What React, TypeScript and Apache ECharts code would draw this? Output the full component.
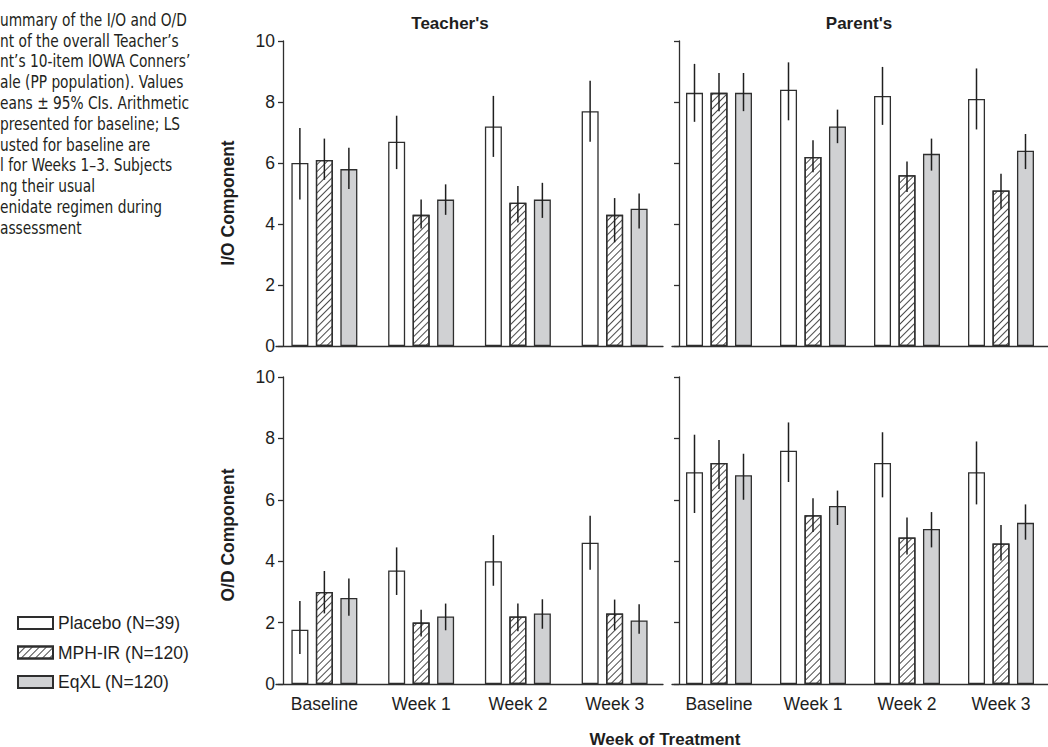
import React, { useEffect, useRef } from "react";
import * as echarts from "echarts";

// ---------- data ----------
const weeks = ["Baseline", "Week 1", "Week 2", "Week 3"];
const groupNames = ["Placebo (N=39)", "MPH-IR (N=120)", "EqXL (N=120)"];

// Teacher's I/O component: [placebo, MPH-IR, EqXL]
const teacherIOMean = [
  [6.0, 6.7, 7.2, 7.7],
  [6.1, 4.3, 4.7, 4.3],
  [5.8, 4.8, 4.8, 4.5],
];
const teacherIOLow = [
  [4.8, 5.8, 6.2, 6.7],
  [5.45, 3.85, 4.05, 3.4],
  [5.15, 4.3, 4.2, 3.85],
];
const teacherIOHigh = [
  [7.15, 7.55, 8.2, 8.7],
  [6.8, 4.8, 5.25, 4.85],
  [6.5, 5.3, 5.35, 5.0],
];

// Parent's I/O component
const parentIOMean = [
  [8.3, 8.4, 8.2, 8.1],
  [8.3, 6.2, 5.6, 5.1],
  [8.3, 7.2, 6.3, 6.4],
];
const parentIOLow = [
  [7.35, 7.4, 7.25, 7.1],
  [7.7, 5.7, 5.05, 4.5],
  [7.7, 6.65, 5.75, 5.8],
];
const parentIOHigh = [
  [9.25, 9.3, 9.15, 9.1],
  [8.95, 6.75, 6.05, 5.65],
  [8.95, 7.75, 6.8, 6.95],
];

// Teacher's O/D component
const teacherODMean = [
  [1.77, 3.7, 4.0, 4.6],
  [3.0, 2.0, 2.2, 2.3],
  [2.8, 2.2, 2.3, 2.07],
];
const teacherODLow = [
  [0.98, 2.9, 3.2, 3.72],
  [2.3, 1.55, 1.72, 1.75],
  [2.22, 1.75, 1.8, 1.64],
];
const teacherODHigh = [
  [2.7, 4.45, 4.85, 5.48],
  [3.68, 2.42, 2.62, 2.75],
  [3.44, 2.62, 2.76, 2.6],
];

// Parent's O/D component
const parentODMean = [
  [6.9, 7.6, 7.2, 6.9],
  [7.2, 5.5, 4.77, 4.58],
  [6.8, 5.8, 5.05, 5.25],
];
const parentODLow = [
  [5.57, 6.58, 6.08, 5.85],
  [6.35, 4.95, 4.22, 4.02],
  [6.0, 5.18, 4.45, 4.7],
];
const parentODHigh = [
  [8.12, 8.52, 8.2, 7.9],
  [7.95, 6.05, 5.42, 5.18],
  [7.5, 6.3, 5.6, 5.85],
];

const captionLines = [
  "ummary of the I/O and O/D",
  "nt of the overall Teacher\u2019s",
  "nt\u2019s 10-item IOWA Conners\u2019",
  "ale (PP population). Values",
  "eans \u00b1 95% CIs. Arithmetic",
  "presented for baseline; LS",
  "usted for baseline are",
  "l for Weeks 1\u20133. Subjects",
  "ng their usual",
  "enidate regimen during",
  "assessment",
];

// ---------- styling ----------
const FONT = '"Liberation Sans", Arial, sans-serif';
const TEXT = "#1e1e1e";
const STROKE = "#2e2e2e";
const BAR_W = 17;
const BAR_OFFSETS = [-24.5, 0, 24.5];

const groupStyles: any[] = [
  { color: "#ffffff", borderColor: STROKE, borderWidth: 1.3 },
  {
    color: "#ffffff",
    borderColor: STROKE,
    borderWidth: 1.3,
    decal: {
      symbol: "rect",
      symbolSize: 1,
      color: "#4a4a4a",
      backgroundColor: "#ffffff",
      dashArrayX: [1, 0],
      dashArrayY: [0.8, 3.2],
      rotation: -Math.PI / 4,
    },
  },
  { color: "#d0d1d3", borderColor: STROKE, borderWidth: 1.3 },
];

export default function App() {
  const ref = useRef<HTMLDivElement>(null);

  useEffect(() => {
    if (!ref.current) return;
    const chart = echarts.init(ref.current, undefined, { renderer: "svg" });

    const panels = [
      { mean: teacherIOMean, low: teacherIOLow, high: teacherIOHigh },
      { mean: parentIOMean, low: parentIOLow, high: parentIOHigh },
      { mean: teacherODMean, low: teacherODLow, high: teacherODHigh },
      { mean: parentODMean, low: parentODLow, high: parentODHigh },
    ];

    const grids = [
      { left: 276, top: 41, width: 387, height: 305 },
      { left: 672, top: 41, width: 387, height: 305 },
      { left: 276, top: 377, width: 387, height: 307 },
      { left: 672, top: 377, width: 387, height: 307 },
    ];

    const xAxes = grids.map((_, i) => ({
      type: "category",
      gridIndex: i,
      data: weeks,
      axisLine: { show: true, lineStyle: { color: STROKE, width: 1.3 } },
      axisTick: { show: false },
      axisLabel: {
        show: i >= 2,
        margin: 11,
        fontSize: 17.5,
        fontFamily: FONT,
        color: TEXT,
      },
      splitLine: { show: false },
    }));

    const yAxes = grids.map((_, i) => ({
      type: "value",
      gridIndex: i,
      min: 0,
      max: 10,
      interval: 2,
      offset: -7,
      axisLine: { show: true, lineStyle: { color: STROKE, width: 1.3 } },
      axisTick: { show: true, length: 5, lineStyle: { color: STROKE, width: 1.3 } },
      axisLabel: {
        show: i % 2 === 0,
        margin: 8,
        fontSize: 17.5,
        fontFamily: FONT,
        color: TEXT,
      },
      splitLine: { show: false },
    }));

    const series: any[] = [];
    panels.forEach((p, i) => {
      for (let g = 0; g < 3; g++) {
        series.push({
          type: "bar",
          name: groupNames[g],
          xAxisIndex: i,
          yAxisIndex: i,
          data: p.mean[g],
          barWidth: BAR_W,
          barGap: "44%",
          itemStyle: groupStyles[g],
          z: 2,
        });
      }
    });
    panels.forEach((p, i) => {
      for (let g = 0; g < 3; g++) {
        const off = BAR_OFFSETS[g];
        series.push({
          type: "custom",
          name: "ci-" + i + "-" + g,
          xAxisIndex: i,
          yAxisIndex: i,
          z: 5,
          data: weeks.map((_, k) => [k, p.low[g][k], p.high[g][k]]),
          encode: { x: 0, y: [1, 2] },
          renderItem: (params: any, api: any) => {
            const c = api.value(0);
            const a = api.coord([c, api.value(1)]);
            const b = api.coord([c, api.value(2)]);
            return {
              type: "line",
              shape: { x1: a[0] + off, y1: a[1], x2: b[0] + off, y2: b[1] },
              style: { stroke: "#1f1f1f", lineWidth: 1.5 },
            };
          },
        });
      }
    });

    const graphics: any[] = captionLines.map((t, k) => ({
      type: "text",
      x: 0,
      y: 20 + k * 20.8,
      scaleX: 0.9,
      style: {
        text: t,
        fill: "#231f20",
        font: '17px "Liberation Sans Narrow", "DejaVu Sans Condensed", "Open Sans", sans-serif',
        verticalAlign: "middle",
        align: "left",
      },
    }));
    graphics.push(
      {
        type: "text",
        x: 450,
        y: 23,
        style: { text: "Teacher's", fill: TEXT, font: `bold 17px ${FONT}`, align: "center", verticalAlign: "middle" },
      },
      {
        type: "text",
        x: 859,
        y: 23,
        style: { text: "Parent's", fill: TEXT, font: `bold 17px ${FONT}`, align: "center", verticalAlign: "middle" },
      },
      {
        type: "text",
        x: 228,
        y: 203,
        rotation: Math.PI / 2,
        style: { text: "I/O Component", fill: TEXT, font: `bold 17.5px ${FONT}`, align: "center", verticalAlign: "middle" },
      },
      {
        type: "text",
        x: 228,
        y: 535,
        rotation: Math.PI / 2,
        style: { text: "O/D Component", fill: TEXT, font: `bold 17.5px ${FONT}`, align: "center", verticalAlign: "middle" },
      },
      {
        type: "text",
        x: 665,
        y: 739,
        style: { text: "Week of Treatment", fill: TEXT, font: `bold 17px ${FONT}`, align: "center", verticalAlign: "middle" },
      }
    );

    chart.setOption({
      animation: false,
      backgroundColor: "#ffffff",
      grid: grids,
      xAxis: xAxes,
      yAxis: yAxes,
      legend: {
        data: groupNames,
        orient: "vertical",
        left: 12,
        top: 609,
        itemWidth: 35,
        itemHeight: 12,
        itemGap: 11.5,
        icon: "rect",
        selectedMode: false,
        textStyle: { fontSize: 17.5, fontFamily: FONT, color: TEXT },
      },
      series,
      graphic: graphics,
    });

    return () => chart.dispose();
  }, []);

  return (
    <div
      ref={ref}
      style={{ position: "absolute", left: 0, top: 0, width: 1048, height: 747, background: "#fff" }}
    />
  );
}
